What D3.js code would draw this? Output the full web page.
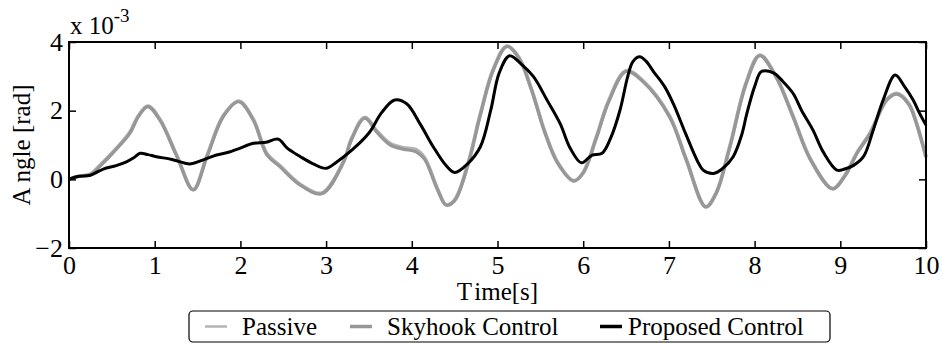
<!DOCTYPE html>
<html>
<head>
<meta charset="utf-8">
<script src="https://cdn.jsdelivr.net/npm/d3@7"></script>
<style>
  body { margin: 0; background: #fff; }
  svg { display: block; }
</style>
</head>
<body>
<svg id="chart" width="942" height="346"></svg>
<script>
// time [s] and angle [x 1e-3 rad]
const passiveT = [0, 0.1, 0.25, 0.36, 0.56, 0.71, 0.81, 0.92, 1.06, 1.26, 1.45, 1.61, 1.8, 1.98, 2.15, 2.31, 2.46, 2.7, 2.95,
  3.2, 3.3, 3.45, 3.6, 3.75, 3.9, 4.05, 4.15, 4.3, 4.4, 4.5, 4.65, 4.8, 4.95, 5.11, 5.25, 5.4, 5.55, 5.7, 5.89,
  6.0, 6.15, 6.3, 6.5, 6.7, 7.01, 7.2, 7.43, 7.55, 7.71, 7.9, 8.06, 8.25, 8.45, 8.65, 8.91, 9.05, 9.2, 9.35, 9.54, 9.66, 9.8, 9.89, 10];
const passiveV = [0, 0.08, 0.15, 0.4, 0.92, 1.37, 1.85, 2.13, 1.75, 0.68, -0.3, 0.68, 1.85, 2.28, 1.75, 0.74, 0.4, -0.15, -0.4,
  0.5, 1.2, 1.8, 1.38, 1.04, 0.92, 0.86, 0.62, -0.28, -0.74, -0.6, 0.4, 1.9, 3.2, 3.88, 3.55, 2.6, 1.4, 0.5, -0.04,
  0.2, 1.2, 2.3, 3.16, 2.86, 1.83, 0.6, -0.8, -0.4, 0.95, 2.8, 3.62, 3.0, 1.83, 0.6, -0.27, 0.1, 0.8, 1.36, 2.32, 2.5, 2.2, 1.63, 0.66];
const skyhookV = [0, 0.08, 0.14, 0.38, 0.9, 1.34, 1.83, 2.12, 1.73, 0.66, -0.31, 0.66, 1.83, 2.26, 1.73, 0.71, 0.37, -0.17, -0.42,
  0.48, 1.18, 1.78, 1.35, 1.0, 0.88, 0.8, 0.58, -0.3, -0.75, -0.62, 0.38, 1.88, 3.18, 3.87, 3.53, 2.58, 1.38, 0.48, -0.05,
  0.18, 1.18, 2.28, 3.14, 2.84, 1.81, 0.58, -0.8, -0.42, 0.93, 2.78, 3.6, 2.98, 1.81, 0.58, -0.28, 0.08, 0.78, 1.34, 2.3, 2.48, 2.18, 1.61, 0.64];
const proposedT = [0, 0.1, 0.25, 0.4, 0.55, 0.67, 0.75, 0.83, 0.92, 1.02, 1.2, 1.41, 1.55, 1.72, 1.85, 1.99, 2.15, 2.3, 2.44, 2.55, 2.7, 2.85,
  3.0, 3.12, 3.3, 3.5, 3.65, 3.8, 3.94, 4.1, 4.25, 4.4, 4.5, 4.65, 4.8, 4.92, 5.02, 5.14, 5.28, 5.42, 5.58, 5.73, 5.85, 5.98,
  6.1, 6.22, 6.32, 6.43, 6.52, 6.58, 6.66, 6.73, 6.82, 6.95, 7.05, 7.2, 7.33, 7.4, 7.52, 7.62, 7.75, 7.85, 7.91, 8.0, 8.08, 8.22,
  8.33, 8.45, 8.55, 8.68, 8.8, 8.96, 9.05, 9.15, 9.27, 9.38, 9.5, 9.64, 9.75, 9.85, 9.93, 10];
const proposedV = [0, 0.08, 0.12, 0.3, 0.4, 0.51, 0.62, 0.76, 0.72, 0.66, 0.58, 0.45, 0.55, 0.71, 0.78, 0.9, 1.05, 1.08, 1.17, 0.9, 0.66, 0.45,
  0.32, 0.5, 0.85, 1.35, 1.95, 2.31, 2.2, 1.6, 0.95, 0.4, 0.2, 0.45, 0.95, 2.0, 3.1, 3.6, 3.35, 2.99, 2.3, 1.63, 0.9, 0.48,
  0.7, 0.76, 1.2, 2.02, 3.0, 3.43, 3.57, 3.45, 3.14, 2.7, 2.21, 1.3, 0.55, 0.27, 0.17, 0.3, 0.66, 1.3, 1.92, 2.7, 3.14, 3.1,
  2.85, 2.5, 2.0, 1.44, 0.8, 0.27, 0.3, 0.4, 0.66, 1.4, 2.31, 3.04, 2.7, 2.31, 1.9, 1.58];

const xTicks = [0, 1, 2, 3, 4, 5, 6, 7, 8, 9, 10];
const yTicks = [-2, 0, 2, 4];
const seriesNames = ["Passive", "Skyhook Control", "Proposed Control"];

const serif = "Liberation Serif";
const svg = d3.select("#chart");
const plotLeft = 69, plotRight = 926, plotTop = 42, plotBottom = 248;

const x = d3.scaleLinear().domain([0, 10]).range([plotLeft, plotRight]);
const y = d3.scaleLinear().domain([-2, 4]).range([plotBottom, plotTop]);

const series = [
  { name: seriesNames[0], t: passiveT, v: passiveV, color: "#b4b4b4", width: 3.8 },
  { name: seriesNames[1], t: passiveT, v: skyhookV, color: "#979797", width: 3.2 },
  { name: seriesNames[2], t: proposedT, v: proposedV, color: "#000", width: 3 }
];

const line = d3.line()
  .x(d => x(d[0]))
  .y(d => y(d[1]))
  .curve(d3.curveCatmullRom.alpha(0.5));

const plot = svg.append("g");
series.forEach(s => {
  plot.append("path")
    .datum(s.t.map((t, i) => [t, s.v[i]]))
    .attr("d", line)
    .attr("fill", "none")
    .attr("stroke", s.color)
    .attr("stroke-width", s.width)
    .attr("stroke-linejoin", "round");
});

// axes, ticks pointing inward on all four sides
function styleAxis(g) {
  g.attr("font-family", serif).attr("font-size", 26);
  g.select(".domain").remove();
  g.selectAll(".tick line").attr("stroke", "#000").attr("stroke-width", 1.5);
  g.selectAll("text").attr("font-family", serif).attr("font-size", 26).attr("fill", "#000");
}
svg.append("g").attr("transform", `translate(0,${plotBottom})`)
  .call(d3.axisBottom(x).tickValues(xTicks).tickSizeInner(-7).tickSizeOuter(0).tickPadding(8).tickFormat(d3.format("d")))
  .call(styleAxis);
svg.append("g").attr("transform", `translate(0,${plotTop})`)
  .call(d3.axisTop(x).tickValues(xTicks).tickSizeInner(-7).tickSizeOuter(0).tickFormat(""))
  .call(styleAxis);
svg.append("g").attr("transform", `translate(${plotLeft},0)`)
  .call(d3.axisLeft(y).tickValues(yTicks).tickSizeInner(-7).tickSizeOuter(0).tickPadding(6).tickFormat(d3.format("d")))
  .call(styleAxis);
svg.append("g").attr("transform", `translate(${plotRight},0)`)
  .call(d3.axisRight(y).tickValues(yTicks).tickSizeInner(-7).tickSizeOuter(0).tickFormat(""))
  .call(styleAxis);

svg.append("rect")
  .attr("x", plotLeft).attr("y", plotTop)
  .attr("width", plotRight - plotLeft).attr("height", plotBottom - plotTop)
  .attr("fill", "none").attr("stroke", "#000").attr("stroke-width", 2);

// exponent label
const expo = svg.append("text").attr("x", 70).attr("y", 34)
  .attr("font-family", serif).attr("font-size", 25);
expo.append("tspan").text("x 10");
expo.append("tspan").attr("dy", -12).attr("font-size", 19).text("-3");

// axis titles
const xt = svg.append("text").attr("x", (plotLeft + plotRight) / 2).attr("y", 300)
  .attr("text-anchor", "middle").attr("font-family", serif).attr("font-size", 25);
xt.append("tspan").text("T");
xt.append("tspan").attr("dx", 3).text("ime[s]");

const yt = svg.append("text")
  .attr("transform", `translate(30,${(plotTop + plotBottom) / 2}) rotate(-90)`)
  .attr("text-anchor", "middle").attr("font-family", serif).attr("font-size", 25);
yt.append("tspan").text("A");
yt.append("tspan").attr("dx", 5).text("ngle [rad]");

// legend
const legend = svg.append("g");
legend.append("rect")
  .attr("x", 189).attr("y", 311).attr("width", 641).attr("height", 31).attr("rx", 4)
  .attr("fill", "#fff").attr("stroke", "#000").attr("stroke-width", 1.2);
const legendX = [205, 350, 600];
series.forEach((s, i) => {
  legend.append("line")
    .attr("x1", legendX[i]).attr("x2", legendX[i] + 22)
    .attr("y1", 326.5).attr("y2", 326.5)
    .attr("stroke", s.color).attr("stroke-width", i === 0 ? 2.5 : 3.5);
  legend.append("text")
    .attr("x", legendX[i] + (i === 2 ? 28 : 37)).attr("y", 335)
    .attr("font-family", serif).attr("font-size", 25)
    .text(s.name);
});
</script>
</body>
</html>
